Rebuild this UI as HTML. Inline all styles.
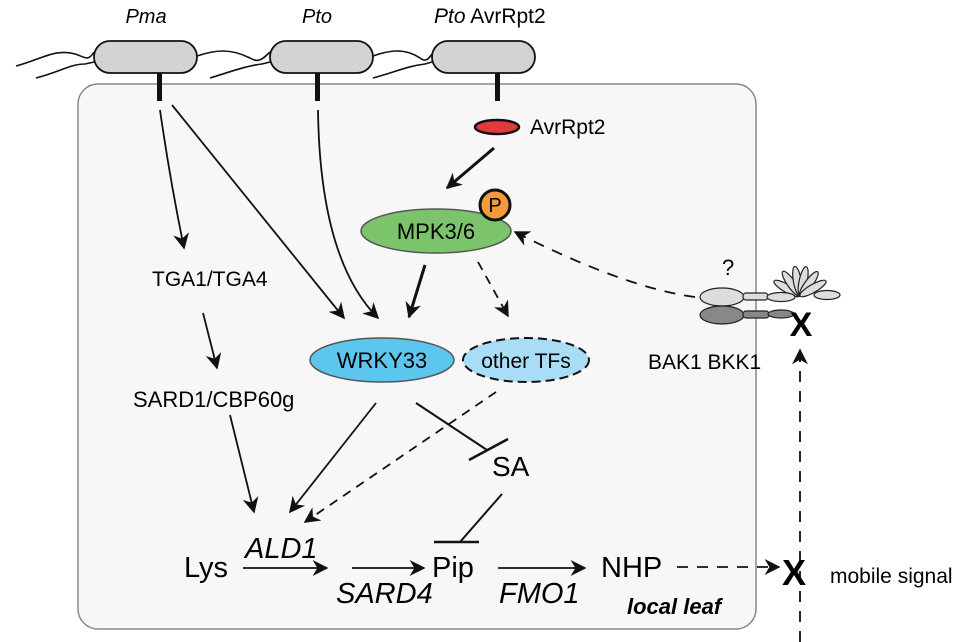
<!DOCTYPE html>
<html><head><meta charset="utf-8"><style>
html,body{margin:0;padding:0;background:#fff;}
svg{display:block;font-family:"Liberation Sans",Arial,sans-serif;}
</style></head><body>
<svg width="978" height="642" viewBox="0 0 978 642" xmlns="http://www.w3.org/2000/svg">
<defs>
<marker id="b" viewBox="0 0 10 10" refX="9" refY="5" markerWidth="16" markerHeight="16" orient="auto" markerUnits="userSpaceOnUse"><path d="M0,0 L10,5 L0,10 L3,5 z" fill="#111"/></marker>
</defs>
<rect x="78" y="84" width="678" height="545" rx="20" fill="#f7f7f7" stroke="#888" stroke-width="1.5"/>
<text x="146" y="23" font-size="20" font-style="italic" text-anchor="middle">Pma</text>
<text x="317" y="23" font-size="20" font-style="italic" text-anchor="middle">Pto</text>
<text x="434" y="23" font-size="21"><tspan font-style="italic">Pto</tspan> AvrRpt2</text>
<g fill="none" stroke="#111" stroke-width="1.6">
<path d="M16,66 C40,60 55,48 75,54 C85,57 88,62 94,52"/>
<path d="M36,78 C60,72 70,64 85,64 L94,62"/>
<path d="M197,56 C215,50 230,48 250,58 C258,63 262,60 270,52"/>
<path d="M210,78 C230,72 245,66 262,64 L270,62"/>
<path d="M373,56 C390,50 405,48 420,58 C425,62 428,60 432,54"/>
<path d="M373,78 C395,72 408,66 425,64 L432,62"/>
</g>
<g fill="#d3d3d3" stroke="#111" stroke-width="1.8">
<rect x="94" y="41" width="103" height="32" rx="16"/>
<rect x="270" y="41" width="103" height="32" rx="16"/>
<rect x="432" y="41" width="103" height="32" rx="16"/>
</g>
<g fill="#111">
<rect x="157" y="73" width="5" height="28"/>
<rect x="315" y="73" width="5" height="28"/>
<rect x="495" y="73" width="5" height="28"/>
</g>
<ellipse cx="497" cy="127" rx="22" ry="7" fill="#e23a3a" stroke="#111" stroke-width="2.5"/>
<text x="530" y="134" font-size="21">AvrRpt2</text>
<line x1="494" y1="148" x2="447" y2="188" stroke="#111" stroke-width="3" marker-end="url(#b)"/>
<ellipse cx="436" cy="231" rx="75" ry="22" fill="#7cc46c" stroke="#555" stroke-width="1.5"/>
<text x="436" y="239" font-size="22" text-anchor="middle">MPK3/6</text>
<circle cx="495" cy="205" r="15" fill="#f39a3a" stroke="#111" stroke-width="3"/>
<text x="495" y="212" font-size="20" text-anchor="middle">P</text>
<g stroke="#111" fill="none" stroke-width="1.8">
<path d="M160,110 Q170,180 184,248" marker-end="url(#b)"/>
<line x1="172" y1="105" x2="344" y2="318" marker-end="url(#b)"/>
<path d="M318,110 Q320,260 378,318" marker-end="url(#b)"/>
<line x1="425" y1="265" x2="409" y2="317" stroke-width="3" marker-end="url(#b)"/>
<line x1="478" y1="262" x2="508" y2="316" stroke-dasharray="9,7" marker-end="url(#b)"/>
<line x1="203" y1="313" x2="217" y2="368" marker-end="url(#b)"/>
<line x1="230" y1="415" x2="254" y2="512" marker-end="url(#b)"/>
<line x1="376" y1="403" x2="290" y2="512" marker-end="url(#b)"/>
<line x1="496" y1="392" x2="305" y2="522" stroke-dasharray="9,7" marker-end="url(#b)"/>
<line x1="416" y1="403" x2="487" y2="450" stroke-width="2"/>
<line x1="469" y1="460" x2="508" y2="439" stroke-width="2.5"/>
<line x1="502" y1="494" x2="460" y2="542" stroke-width="2"/>
<line x1="434" y1="542" x2="479" y2="542" stroke-width="2.5"/>
<line x1="243" y1="568" x2="327" y2="568" marker-end="url(#b)"/>
<line x1="352" y1="568" x2="424" y2="568" marker-end="url(#b)"/>
<line x1="498" y1="568" x2="585" y2="568" marker-end="url(#b)"/>
<line x1="677" y1="567" x2="779" y2="567" stroke-dasharray="11,9" marker-end="url(#b)"/>
<line x1="800" y1="642" x2="800" y2="350" stroke-dasharray="11,9" marker-end="url(#b)"/>
<path d="M695,297 C640,290 570,260 515,232" stroke-dasharray="11,9" marker-end="url(#b)"/>
</g>
<ellipse cx="382" cy="360" rx="72" ry="22" fill="#5cc6ef" stroke="#555" stroke-width="1.5"/>
<text x="382" y="368" font-size="22" text-anchor="middle">WRKY33</text>
<ellipse cx="526" cy="360" rx="63" ry="22" fill="#a9ddf5" stroke="#111" stroke-width="2" stroke-dasharray="9,5"/>
<text x="526" y="368" font-size="21" text-anchor="middle">other TFs</text>
<text x="152" y="286" font-size="21">TGA1/TGA4</text>
<text x="133" y="407" font-size="22">SARD1/CBP60g</text>
<text x="492" y="476" font-size="28">SA</text>
<text x="245" y="558" font-size="29" font-style="italic">ALD1</text>
<text x="184" y="577" font-size="29">Lys</text>
<text x="432" y="577" font-size="29">Pip</text>
<text x="336" y="603" font-size="29" font-style="italic">SARD4</text>
<text x="499" y="603" font-size="29" font-style="italic">FMO1</text>
<text x="601" y="577" font-size="29">NHP</text>
<text x="627" y="614" font-size="22" font-weight="bold" font-style="italic">local leaf</text>
<text x="782" y="585" font-size="36" font-weight="bold">X</text>
<text x="830" y="583" font-size="21">mobile signal</text>
<g stroke="#222" stroke-width="1.2">
<g fill="#ddd">
<g transform="translate(800,296)">
<ellipse cx="0" cy="-15" rx="4" ry="15" transform="rotate(-60)"/>
<ellipse cx="0" cy="-15" rx="4" ry="15" transform="rotate(-35)"/>
<ellipse cx="0" cy="-15" rx="4" ry="15" transform="rotate(-10)"/>
<ellipse cx="0" cy="-15" rx="4" ry="15" transform="rotate(12)"/>
<ellipse cx="0" cy="-15" rx="4" ry="15" transform="rotate(36)"/>
<ellipse cx="0" cy="-15" rx="4" ry="15" transform="rotate(60)"/>
</g>
<ellipse cx="827" cy="295" rx="13" ry="4.5"/>
<ellipse cx="722" cy="297" rx="22" ry="9"/>
<rect x="743" y="293" width="25" height="7" rx="3"/>
<ellipse cx="781" cy="297" rx="14" ry="4.5"/>
</g>
<g fill="#888">
<ellipse cx="722" cy="315" rx="22" ry="9"/>
<rect x="743" y="311" width="26" height="7" rx="3"/>
<ellipse cx="781" cy="314" rx="13" ry="4"/>
</g>
</g>
<text x="722" y="275" font-size="22">?</text>
<text x="801" y="336" font-size="34" font-weight="bold" text-anchor="middle">X</text>
<text x="648" y="369" font-size="21">BAK1 BKK1</text>
</svg>
</body></html>
